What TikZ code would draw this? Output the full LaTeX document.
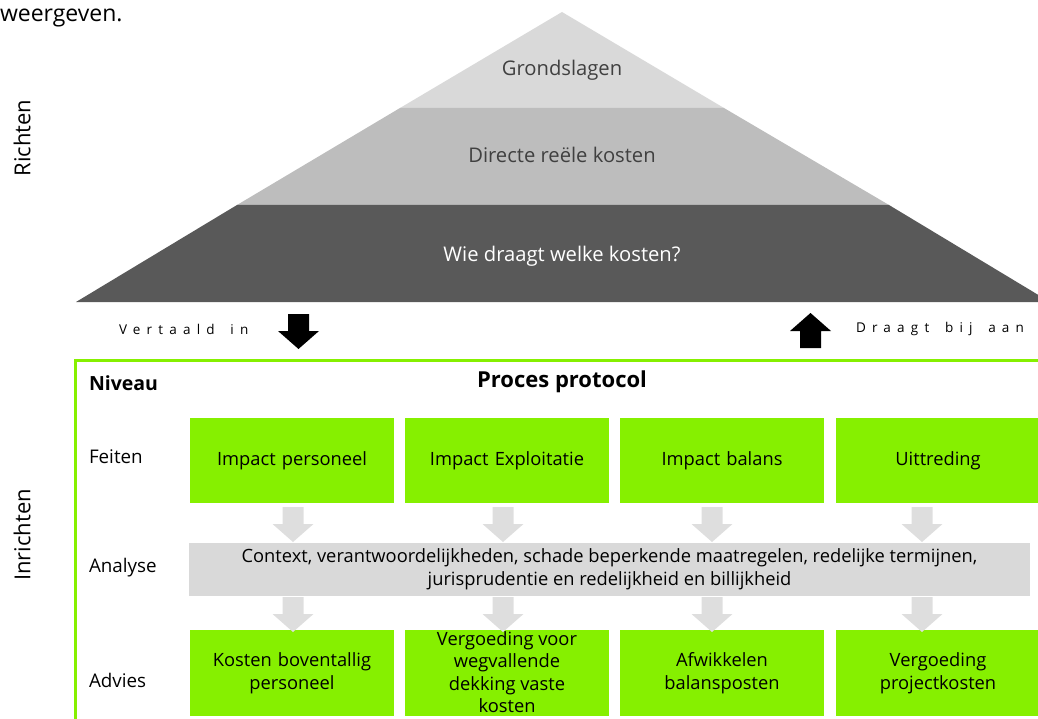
\documentclass[tikz,border=0pt]{standalone}
\usepackage{fontspec}
\setmainfont{Open Sans}
\usetikzlibrary{arrows.meta}
\definecolor{lgreen}{HTML}{86F000}
\definecolor{pyrA}{HTML}{D9D9D9}
\definecolor{pyrB}{HTML}{BDBDBD}
\definecolor{pyrC}{HTML}{595959}
\definecolor{pyrtext}{HTML}{404040}
\definecolor{band}{HTML}{D9D9D9}
\definecolor{garrow}{HTML}{DEDEDE}
\begin{document}
\begin{tikzpicture}[x=1pt,y=-1pt,
  every node/.style={inner sep=0pt, outer sep=0pt},
  pyrlabel/.style={font=\fontsize{20.2}{24}\selectfont, text=pyrtext, anchor=center},
  sidelabel/.style={font=\fontsize{22}{26}\selectfont, rotate=90, anchor=center},
  rowlabel/.style={font=\fontsize{18.8}{22}\selectfont, anchor=west},
  headlabel/.style={font=\bfseries\fontsize{19.5}{23}\selectfont},
  greenbox/.style={fill=lgreen, minimum width=204pt, anchor=north west, align=center,
     font=\fontsize{18.3}{23.5}\selectfont, text width=200pt},
  spaced/.style={font=\fontsize{13.5}{16}\selectfont\addfontfeature{LetterSpace=46}},
  blockarrow/.pic={\fill[pic actions] (-10.5,0) -- (10.5,0) -- (10.5,17) -- (20.5,17) -- (0,35) -- (-20.5,17) -- (-10.5,17) -- cycle;}
]
\useasboundingbox (0,0) rectangle (1038,719);

% intro text
\node[anchor=base west, font=\fontsize{23}{26}\selectfont] (intro) at (0,22) {weergeven.};

% pyramid
\fill[pyrA] (562,12) -- (724,108) -- (400,108) -- cycle;
\fill[pyrB] (400,108) -- (724,108) -- (889,205) -- (237,205) -- cycle;
\fill[pyrC] (237,205) -- (889,205) -- (1050,302) -- (76,302) -- cycle;
\node[pyrlabel] (grond) at (562,70) {Grondslagen};
\node[pyrlabel] (direct) at (562,155) {Directe reële kosten};
\node[pyrlabel, text=white] (wie) at (562,256) {Wie draagt welke kosten?};

\node[sidelabel] (richten) at (22,138) {Richten};
\node[sidelabel] (inrichten) at (22,535) {Inrichten};

% translation arrows
\node[spaced, anchor=west] (vert) at (119,329) {Vertaald\hspace{6pt} in};
\pic[fill=black] (darr) at (298.5,314) {blockarrow};
\pic[fill=black, yscale=-1] (uarr) at (810.5,348) {blockarrow};
\node[spaced, anchor=west] (draagt) at (856,329) {Draagt\hspace{6pt} bij\hspace{6pt} aan};

% green frame
\draw[lgreen, line width=3pt] (75,725) -- (75,360) -- (1045,360);

\node[headlabel, anchor=west] (niveau) at (89,383) {Niveau};
\node[headlabel, font=\bfseries\fontsize{22}{26}\selectfont] (proces) at (562,382) {Proces protocol};

\node[rowlabel] (feiten) at (89,457) {Feiten};
\node[rowlabel] (analyse) at (89,568) {Analyse};
\node[rowlabel] (advies) at (89,680) {Advies};

% top boxes
\node[greenbox, minimum height=85pt] (f1) at (190,418) {Impact personeel};
\node[greenbox, minimum height=85pt] (f2) at (405,418) {Impact Exploitatie};
\node[greenbox, minimum height=85pt] (f3) at (620,418) {Impact balans};
\node[greenbox, minimum height=85pt] (f4) at (836,418) {Uittreding};

% analysis band
\node[fill=band, minimum width=841pt, minimum height=53pt, anchor=north west,
      align=center, font=\fontsize{18.3}{23}\selectfont] (band) at (189,543)
  {Context, verantwoordelijkheden, schade beperkende maatregelen, redelijke termijnen,\\
   jurisprudentie en redelijkheid en billijkheid};

% bottom boxes
\node[greenbox, minimum height=86pt] (a1) at (190,630) {Kosten boventallig\\personeel};
\node[greenbox, minimum height=86pt] (a2) at (405,630) {};
\node[align=center, font=\fontsize{18.3}{22.5}\selectfont] (a2t) at (507,672) {Vergoeding voor\\wegvallende\\dekking vaste\\kosten};
\node[greenbox, minimum height=86pt] (a3) at (620,630) {Afwikkelen\\balansposten};
\node[greenbox, minimum height=86pt] (a4) at (836,630) {Vergoeding\\projectkosten};

% gray block arrows
\foreach \cx/\i in {293/1,503/2,712/3,922/4}{
  \pic[fill=garrow] (ga\i) at (\cx,507) {blockarrow};
  \pic[fill=garrow] (gb\i) at (\cx,597) {blockarrow};
}
\end{tikzpicture}
\end{document}
